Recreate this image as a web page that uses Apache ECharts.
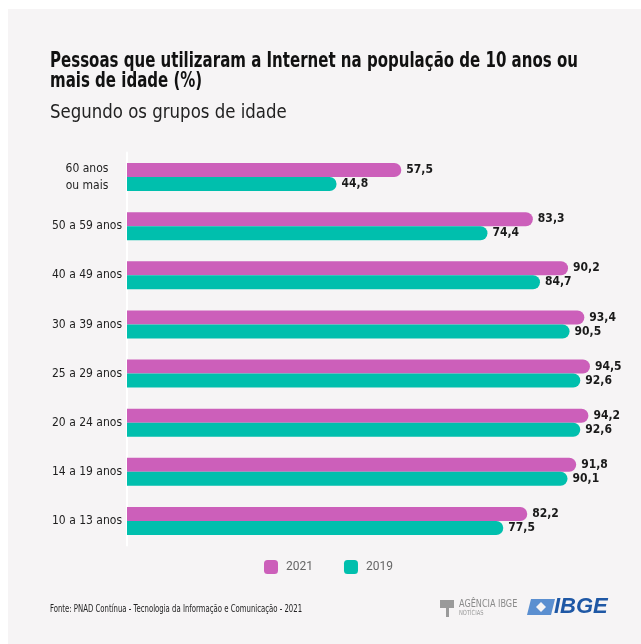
<!DOCTYPE html>
<html><head><meta charset="utf-8">
<script src="https://cdn.jsdelivr.net/npm/echarts@6/dist/echarts.min.js"></script>
<style>html,body{margin:0;padding:0;background:#fff}#c{width:641px;height:644px}</style>
</head><body><div id="c"></div>
<script>
const categories = ['60 anos\nou mais','50 a 59 anos','40 a 49 anos','30 a 39 anos','25 a 29 anos','20 a 24 anos','14 a 19 anos','10 a 13 anos'];
const values2021 = [57.5, 83.3, 90.2, 93.4, 94.5, 94.2, 91.8, 82.2];
const values2019 = [44.8, 74.4, 84.7, 90.5, 92.6, 92.6, 90.1, 77.5];
const seriesNames = ['2021','2019'];
const titleText = 'Pessoas que utilizaram a Internet na população de 10 anos ou\nmais de idade (%)';
const subtitleText = 'Segundo os grupos de idade';
const sourceText = 'Fonte: PNAD Contínua - Tecnologia da Informação e Comunicação - 2021';

const NARROW = '"DejaVu Sans Condensed","DejaVu Sans",sans-serif';
const chart = echarts.init(document.getElementById('c'), null, {renderer:'canvas'});
const fmt = p => String(p.value).replace('.', ',');
const labelCfg = {show:true, position:'right', distance:5, formatter:fmt, fontFamily:NARROW, fontWeight:'bold', fontSize:12, color:'#1a1a1a'};
chart.setOption({
  animation:false,
  backgroundColor:'#ffffff',
  graphic:[
    {type:'rect', left:8, top:9, shape:{width:633, height:635}, style:{fill:'#f6f4f5'}, z:-10},
    {type:'text', x:50, y:52, scaleX:0.795, style:{text:titleText, fontFamily:NARROW, fontWeight:'bold', fontSize:21, lineHeight:20, fill:'#111'}},
    {type:'text', x:50, y:104, scaleX:0.97, style:{text:subtitleText, fontFamily:NARROW, fontSize:19, fill:'#222'}},
    {type:'text', x:50, y:604, scaleX:0.77, style:{text:sourceText, fontFamily:NARROW, fontSize:10, fill:'#222'}},
    {type:'text', x:459, y:599, scaleX:0.82, style:{text:'AGÊNCIA IBGE', fontFamily:NARROW, fontSize:11, fill:'#8a8a8a'}},
    {type:'text', x:459, y:610, scaleX:0.82, style:{text:'NOTÍCIAS', fontFamily:NARROW, fontSize:7, fill:'#9a9a9a'}},
    {type:'rect', shape:{x:440, y:600, width:14, height:8}, style:{fill:'#9a9a9a'}},
    {type:'rect', shape:{x:446, y:608, width:3, height:9}, style:{fill:'#9a9a9a'}},
    {type:'polygon', shape:{points:[[531,599],[555,599],[551,615],[527,615]]}, style:{fill:'#5b8fd0'}},
    {type:'polygon', shape:{points:[[541,602],[546,607],[541,612],[536,607]]}, style:{fill:'#f6f4f5'}},
    {type:'text', x:554, y:596, style:{text:'IBGE', fontFamily:'"Liberation Sans",Arial,sans-serif', fontStyle:'italic', fontWeight:'bold', fontSize:22, fill:'#1f58a5'}}
  ],
  legend:{
    data:seriesNames, left:259, top:555, itemWidth:14, itemHeight:14, itemGap:31,
    icon:'roundRect',
    textStyle:{fontFamily:'Roboto, sans-serif', fontSize:12, color:'#666', padding:[0,0,0,3]}
  },
  grid:{left:127, right:23, top:152.5, bottom:98.5},
  xAxis:{type:'value', min:3.7, max:100, show:false},
  yAxis:{
    type:'category', data:categories, inverse:true,
    axisLine:{show:true, lineStyle:{color:'#ffffff', width:2}},
    axisTick:{show:false},
    axisLabel:{align:'center', margin:40, fontFamily:NARROW, fontSize:12, color:'#1e1e1e', lineHeight:17}
  },
  series:[
    {name:seriesNames[0], type:'bar', data:values2021, barWidth:14, barGap:'0%', itemStyle:{color:'#cc5fba', borderRadius:[0,7,7,0]}, label:labelCfg},
    {name:seriesNames[1], type:'bar', data:values2019, barWidth:14, barGap:'0%', itemStyle:{color:'#00bfad', borderRadius:[0,7,7,0]}, label:labelCfg}
  ]
});
</script></body></html>
